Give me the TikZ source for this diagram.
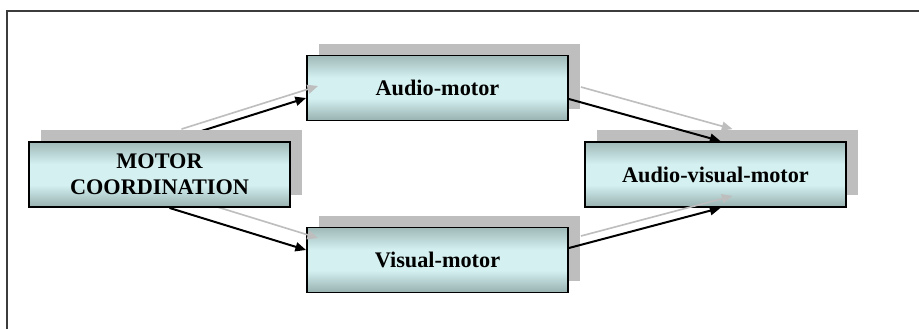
\documentclass[tikz,border=0pt]{standalone}
\usepackage{fontspec}
\setmainfont{Liberation Serif}
\usetikzlibrary{arrows.meta,shadows,calc}

\definecolor{edgeteal}{RGB}{78,98,98}
\definecolor{midcyan}{RGB}{212,240,240}
\definecolor{lowteal}{RGB}{58,78,78}
\definecolor{shadowgray}{RGB}{190,190,190}
\definecolor{framegray}{RGB}{60,60,60}

\pgfdeclareverticalshading{blockshade}{100bp}{%
  color(0bp)=(lowteal); color(16bp)=(lowteal!60!midcyan); color(42bp)=(midcyan);
  color(58bp)=(midcyan); color(84bp)=(edgeteal!60!midcyan); color(100bp)=(edgeteal)}

\pgfdeclarelayer{front}
\pgfsetlayers{main,front}

\begin{document}
\begin{tikzpicture}[
  x=0.03cm, y=-0.03cm,
  font=\fontsize{19}{22}\selectfont\bfseries,
  block/.style={draw=black, line width=1.6pt, shading=blockshade,
                minimum width=7.83cm, minimum height=1.95cm,
                align=center, inner sep=2pt,
                general shadow={fill=shadowgray, shadow xshift=3.6mm, shadow yshift=3.6mm}},
  arr/.style={-{Triangle[length=3.2mm, width=2.7mm]}, line width=1.7pt, draw=black},
  ghost/.style={arr, draw=shadowgray, line width=1.4pt,
                transform canvas={xshift=3.6mm, yshift=3.6mm}}
]

\useasboundingbox (0,0) rectangle (919,329);

% ---------------- frame ----------------
\draw[framegray, line width=1.2pt] (7,329) -- (7,11) -- (919,11);

% ---------------- blocks ----------------
\begin{pgfonlayer}{front}
\node[block] (motor) at (159.5,174.5) {MOTOR\\COORDINATION};
\end{pgfonlayer}
\node[block] (audio)  at (437.5,88)  {Audio-motor};
\node[block] (visual) at (437.5,260) {Visual-motor};
\node[block] (both)   at (715.5,174.5) {Audio-visual-motor};

% ---------------- arrow shadows ----------------
\draw[ghost] ($(motor.north)+(10,0)$) -- ($(audio.west)+(0,10)$);
\draw[ghost] ($(motor.south)+(10,0)$) -- ($(visual.west)+(0,-10)$);
\draw[ghost] ($(audio.east)+(0,11)$) -- ($(both.north)+(5,0)$);
\draw[ghost] ($(visual.east)+(0,-12)$) -- ($(both.south)+(5,0)$);

% ---------------- arrows ----------------
\draw[arr] ($(motor.north)+(10,0)$) -- ($(audio.west)+(0,10)$);
\draw[arr] ($(motor.south)+(10,0)$) -- ($(visual.west)+(0,-10)$);
\draw[arr] ($(audio.east)+(0,11)$) -- ($(both.north)+(5,0)$);
\draw[arr] ($(visual.east)+(0,-12)$) -- ($(both.south)+(5,0)$);

\end{tikzpicture}
\end{document}
